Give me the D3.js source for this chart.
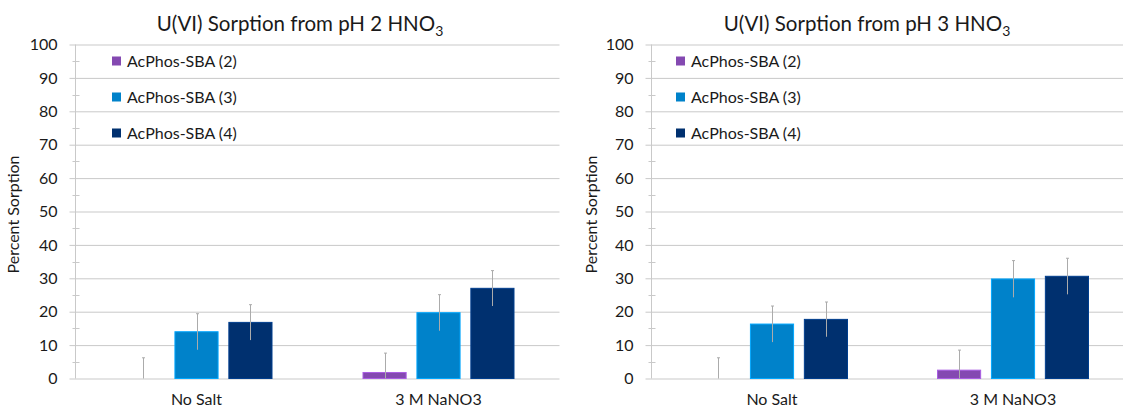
<!DOCTYPE html>
<html>
<head>
<meta charset="utf-8">
<script src="https://cdn.jsdelivr.net/npm/d3@7"></script>
<style>
  html, body { margin: 0; padding: 0; background: #ffffff; }
  svg { display: block; }
  text { font-family: Lato, "Open Sans", sans-serif; fill: #1a1a1a; }
</style>
</head>
<body>
<svg id="chart" width="1123" height="409"></svg>
<script>
// ---- data ----
const categories = ["No Salt", "3 M NaNO3"];
const seriesNames = ["AcPhos-SBA (2)", "AcPhos-SBA (3)", "AcPhos-SBA (4)"];
const yTicks = [0, 10, 20, 30, 40, 50, 60, 70, 80, 90, 100];
const yMinorTicks = [5, 15, 25, 35, 45, 55, 65, 75, 85, 95];

// pH 2 chart: values per series (No Salt, 3 M NaNO3)
const pH2Series2 = [0.0, 1.8];
const pH2Series3 = [14.0, 19.7];
const pH2Series4 = [16.8, 27.0];
const pH2Err2 = [6.2, 5.8];
const pH2Err3 = [5.4, 5.4];
const pH2Err4 = [5.3, 5.3];

// pH 3 chart
const pH3Series2 = [0.0, 2.5];
const pH3Series3 = [16.3, 29.8];
const pH3Series4 = [17.7, 30.6];
const pH3Err2 = [6.2, 6.0];
const pH3Err3 = [5.4, 5.5];
const pH3Err4 = [5.2, 5.4];

const titleMain = ["U(VI) Sorption from pH 2 HNO", "U(VI) Sorption from pH 3 HNO"];
const titleSub = "3";
const yAxisTitle = "Percent Sorption";

// ---- styles / layout ----
const colors = ["#8449b1", "#0082ca", "#00306f"];
const gridColor = "#c9c9c9";
const errColor = "#ababab";

const panels = [
  { axisX: 75.5, width: 484, titleX: 300, legendX: 112, yTitleX: 19,
    values: [pH2Series2, pH2Series3, pH2Series4], errs: [pH2Err2, pH2Err3, pH2Err4], title: titleMain[0] },
  { axisX: 651.5, width: 482, titleX: 867, legendX: 676, yTitleX: 597,
    values: [pH3Series2, pH3Series3, pH3Series4], errs: [pH3Err2, pH3Err3, pH3Err4], title: titleMain[1] }
];

const svg = d3.select("#chart");
const y = d3.scaleLinear().domain([0, 100]).range([378.5, 44.5]);

panels.forEach(p => {
  const g = svg.append("g");

  const x0 = d3.scaleBand().domain(categories).range([p.axisX, p.axisX + p.width]).padding(0);
  const groupW = 151;
  const x1 = d3.scaleBand().domain(seriesNames)
    .range([x0.bandwidth() / 2 - groupW / 2, x0.bandwidth() / 2 + groupW / 2])
    .paddingInner(0.2).paddingOuter(0);

  // gridlines + tick labels via d3 axis
  const yAxis = d3.axisLeft(y).tickValues(yTicks).tickSize(-p.width).tickSizeOuter(0).tickPadding(18);
  const ga = g.append("g").attr("transform", `translate(${p.axisX},0)`).call(yAxis);
  ga.select(".domain").remove();
  ga.selectAll(".tick line").attr("x1", -6).attr("stroke", gridColor).attr("stroke-width", 1);
  ga.selectAll(".tick text").attr("font-family", "Lato, sans-serif").attr("font-size", 16).attr("fill", "#1a1a1a");

  // vertical axis line
  g.append("line").attr("x1", p.axisX).attr("x2", p.axisX).attr("y1", y(100)).attr("y2", y(0))
    .attr("stroke", gridColor).attr("stroke-width", 1);
  // minor ticks
  g.selectAll(".minor").data(yMinorTicks).enter().append("line")
    .attr("x1", p.axisX - 3).attr("x2", p.axisX + 4)
    .attr("y1", d => Math.round(y(d)) + 0.5).attr("y2", d => Math.round(y(d)) + 0.5)
    .attr("stroke", gridColor).attr("stroke-width", 1);

  // bars
  seriesNames.forEach((s, si) => {
    categories.forEach((c, ci) => {
      const v = p.values[si][ci];
      const bx = x0(c) + x1(s);
      if (v > 0) {
        g.append("rect")
          .attr("x", bx).attr("width", x1.bandwidth())
          .attr("y", y(v)).attr("height", y(0) - y(v))
          .attr("fill", colors[si])
          .attr("stroke", d3.color(colors[si]).brighter(0.7))
          .attr("stroke-width", 1);
      }
    });
  });
  // error bars
  seriesNames.forEach((s, si) => {
    categories.forEach((c, ci) => {
      const v = p.values[si][ci];
      const e = p.errs[si][ci];
      const cx = Math.round(x0(c) + x1(s) + x1.bandwidth() / 2) + 0.5;
      const lo = Math.max(0, v - e), hi = v + e;
      g.append("line").attr("x1", cx).attr("x2", cx).attr("y1", y(lo)).attr("y2", y(hi))
        .attr("stroke", errColor).attr("stroke-width", 1);
      g.append("line").attr("x1", cx - 1.5).attr("x2", cx + 1.5).attr("y1", y(hi)).attr("y2", y(hi))
        .attr("stroke", errColor).attr("stroke-width", 1);
    });
  });

  // category labels
  g.selectAll(".cat").data(categories).enter().append("text")
    .attr("x", d => x0(d) + x0.bandwidth() / 2).attr("y", 405)
    .attr("text-anchor", "middle").attr("font-size", 16).text(d => d);

  // title
  const t = g.append("text").attr("x", p.titleX).attr("y", 31).attr("text-anchor", "middle").attr("font-size", 20.5);
  t.append("tspan").text(p.title);
  t.append("tspan").attr("font-size", 14).attr("dy", 5).text(titleSub);

  // y axis title
  g.append("text").attr("transform", `translate(${p.yTitleX},${(y(0) + y(100)) / 2 + 3}) rotate(-90)`)
    .attr("text-anchor", "middle").attr("font-size", 16).text(yAxisTitle);

  // legend
  const lg = g.append("g");
  seriesNames.forEach((s, si) => {
    const cy = 61 + si * 36;
    lg.append("rect").attr("x", p.legendX).attr("y", cy - 4.5).attr("width", 9).attr("height", 9).attr("fill", colors[si]);
    lg.append("text").attr("x", p.legendX + 15).attr("y", cy).attr("dy", "0.36em").attr("font-size", 16).text(s);
  });
});
</script>
</body>
</html>
